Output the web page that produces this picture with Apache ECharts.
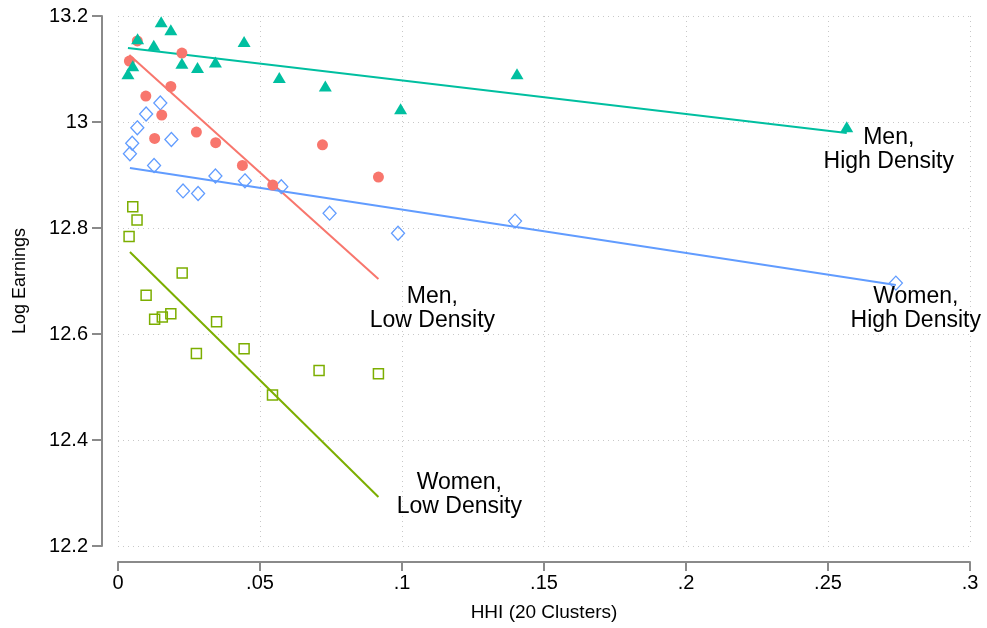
<!DOCTYPE html>
<html>
<head>
<meta charset="utf-8">
<script src="https://cdn.jsdelivr.net/npm/echarts@6/dist/echarts.min.js"></script>
<style>html,body{margin:0;padding:0;background:#fff}#c{width:987px;height:628px}</style>
</head>
<body>
<div id="c"></div>
<script>
// ---- data ----
var menHigh = [[0.0098,13.204],[0.0152,13.189],[0.0186,13.174],[0.0069,13.157],[0.0126,13.145],[0.0444,13.152],[0.0225,13.111],[0.0280,13.103],[0.0343,13.113],[0.0052,13.106],[0.0035,13.091],[0.0568,13.084],[0.0730,13.068],[0.0995,13.025],[0.1405,13.091],[0.2566,12.991]];
var menLow = [[0.0052,13.209],[0.0068,13.153],[0.0040,13.115],[0.0225,13.130],[0.0186,13.067],[0.0098,13.049],[0.0154,13.013],[0.0129,12.969],[0.0276,12.981],[0.0344,12.961],[0.0438,12.918],[0.0720,12.957],[0.0917,12.896],[0.0545,12.881]];
var womenHigh = [[0.0149,13.036],[0.0099,13.015],[0.0068,12.989],[0.0050,12.960],[0.0042,12.940],[0.0188,12.967],[0.0127,12.918],[0.0343,12.898],[0.0447,12.889],[0.0229,12.870],[0.0282,12.865],[0.0575,12.878],[0.0745,12.828],[0.0986,12.790],[0.1398,12.813],[0.2739,12.696]];
var womenLow = [[0.0052,12.840],[0.0067,12.815],[0.0039,12.784],[0.0226,12.715],[0.0099,12.673],[0.0129,12.628],[0.0156,12.632],[0.0186,12.638],[0.0347,12.623],[0.0276,12.563],[0.0444,12.572],[0.0708,12.531],[0.0917,12.525],[0.0544,12.485]];
var fitMenHigh = [[0.0035,13.1396],[0.2566,12.9792]];
var fitMenLow = [[0.0040,13.1264],[0.0917,12.7038]];
var fitWomenHigh = [[0.0042,12.9132],[0.2739,12.6925]];
var fitWomenLow = [[0.0042,12.7547],[0.0917,12.2925]];
var annotations = [
  {text:'Men,\nHigh Density', at:[0.2714,12.948]},
  {text:'Men,\nLow Density', at:[0.1107,12.647]},
  {text:'Women,\nHigh Density', at:[0.2809,12.647]},
  {text:'Women,\nLow Density', at:[0.1202,12.296]}
];
var xTicks = {min:0, max:0.3, interval:0.05};
var yTicks = {min:12.2, max:13.2, interval:0.2};

var C_TEAL = '#00BFA0', C_PINK = '#F8766D', C_BLUE = '#619CFF', C_GREEN = '#7CAE00';
var FONT = '"Liberation Sans", Arial, Helvetica, sans-serif';
var gridLine = {show:true, lineStyle:{color:'#c8c8c8', width:1, type:[1,4]}};
var axisCol = '#8a8a8a';

function fit(data, color){
  return {type:'line', data:data, symbol:'none', silent:true, z:2,
    lineStyle:{color:color, width:2}};
}
var chart = echarts.init(document.getElementById('c'), null, {renderer:'canvas'});
chart.setOption({
  animation:false,
  backgroundColor:'#fff',
  grid:{left:118, right:17, top:16, bottom:82},
  xAxis:{type:'value', min:xTicks.min, max:xTicks.max, interval:xTicks.interval, offset:16,
    name:'HHI (20 Clusters)', nameLocation:'middle', nameGap:41,
    nameTextStyle:{fontFamily:FONT, fontSize:19, color:'#000'},
    axisLine:{show:true, onZero:false, lineStyle:{color:axisCol, width:2}},
    axisTick:{show:true, length:9, lineStyle:{color:axisCol, width:2}},
    axisLabel:{fontFamily:FONT, fontSize:20, color:'#000', margin:11,
      formatter:function(v){ if(v===0) return '0'; return String(+v.toFixed(2)).replace(/^0/,''); }},
    splitLine:gridLine},
  yAxis:{type:'value', min:yTicks.min, max:yTicks.max, interval:yTicks.interval, offset:16,
    name:'Log Earnings', nameLocation:'middle', nameGap:73, nameRotate:90,
    nameTextStyle:{fontFamily:FONT, fontSize:18, color:'#000'},
    axisLine:{show:true, onZero:false, lineStyle:{color:axisCol, width:2}},
    axisTick:{show:true, length:10, lineStyle:{color:axisCol, width:2}},
    axisLabel:{fontFamily:FONT, fontSize:20, color:'#000', margin:14,
      formatter:function(v){ return String(+v.toFixed(1)); }},
    splitLine:gridLine},
  series:[
    fit(fitMenHigh, C_TEAL), fit(fitMenLow, C_PINK), fit(fitWomenHigh, C_BLUE), fit(fitWomenLow, C_GREEN),
    {type:'scatter', data:womenLow, symbol:'rect', symbolSize:10, z:3,
      itemStyle:{color:'rgba(255,255,255,0)', borderColor:C_GREEN, borderWidth:1.5, opacity:1}},
    {type:'scatter', data:womenHigh, symbol:'diamond', symbolSize:[13,14], z:3,
      itemStyle:{color:'rgba(255,255,255,0)', borderColor:C_BLUE, borderWidth:1.3, opacity:1}},
    {type:'scatter', data:menLow, symbol:'circle', symbolSize:11, z:3,
      itemStyle:{color:C_PINK, opacity:1}},
    {type:'scatter', data:menHigh, symbol:'triangle', symbolSize:[13,11], z:4,
      itemStyle:{color:C_TEAL, opacity:1}},
    {type:'scatter', symbolSize:0, silent:true, z:5,
      itemStyle:{opacity:1},
      data:annotations.map(function(a){ return {value:a.at, name:a.text}; }),
      label:{show:true, position:'inside', formatter:'{b}', fontFamily:FONT, fontSize:23,
        lineHeight:24, color:'#000', opacity:1, align:'center', verticalAlign:'middle'}}
  ]
});
</script>
</body>
</html>
